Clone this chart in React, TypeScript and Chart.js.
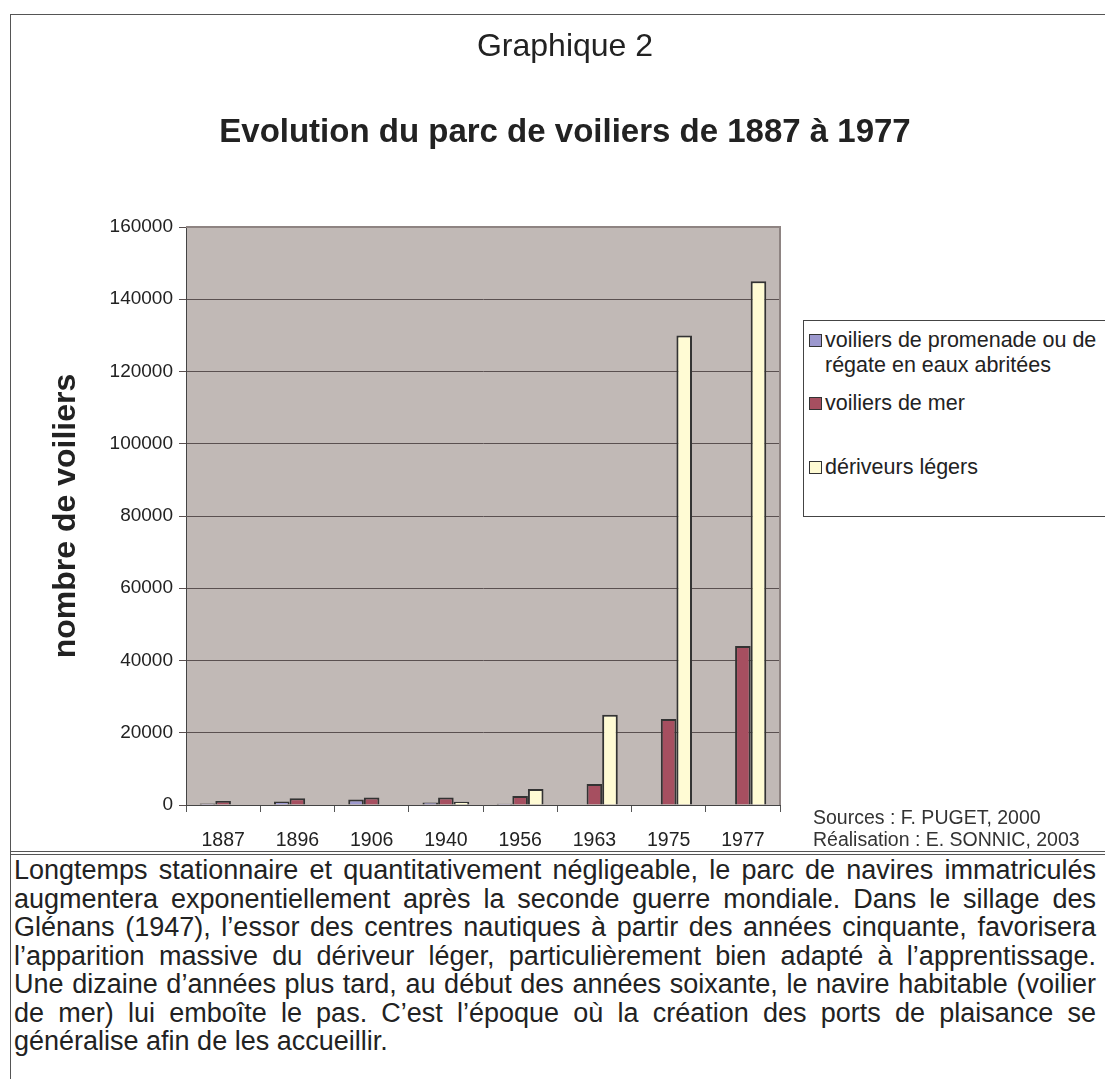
import React, { useEffect, useRef } from "react";
import { Chart, registerables } from "chart.js";

Chart.register(...registerables);

const FONT = '"Liberation Sans", Arial, Helvetica, sans-serif';

const categories = ["1887", "1896", "1906", "1940", "1956", "1963", "1975", "1977"];
const seriesNames = [
  ["voiliers de promenade ou de", "régate en eaux abritées"],
  ["voiliers de mer"],
  ["dériveurs légers"],
];
const promenade = [400, 1000, 1500, 700, 350, 150, 150, null];
const mer = [1100, 1900, 2100, 2100, 2500, 5800, 23800, 44000];
const deriveurs = [null, null, null, 900, 4400, 25000, 130000, 145000];
const seriesColors = ["#9C98CE", "#A64F60", "#FFFBD4"];
const yMax = 160000;
const yStep = 20000;

const pageTitle = "Graphique 2";
const chartTitle = "Evolution du parc de voiliers de 1887 à 1977";
const yTitle = "nombre de voiliers";
const sources = ["Sources : F. PUGET, 2000", "Réalisation : E. SONNIC, 2003"];
const paragraphLines = [
  "Longtemps stationnaire et quantitativement négligeable, le parc de navires immatriculés",
  "augmentera exponentiellement après la seconde guerre mondiale. Dans le sillage des",
  "Glénans (1947), l’essor des centres nautiques à partir des années cinquante, favorisera",
  "l’apparition massive du dériveur léger, particulièrement bien adapté à l’apprentissage.",
  "Une dizaine d’années plus tard, au début des années soixante, le navire habitable (voilier",
  "de mer) lui emboîte le pas. C’est l’époque où la création des ports de plaisance se",
  "généralise afin de les accueillir.",
];

const plotBg = {
  id: "plotBg",
  beforeDraw(chart: any) {
    const { ctx, chartArea } = chart;
    if (!chartArea) return;
    ctx.save();
    ctx.fillStyle = "#C1B9B6";
    ctx.fillRect(chartArea.left, chartArea.top, chartArea.right - chartArea.left, chartArea.bottom - chartArea.top);
    ctx.restore();
  },
  afterDraw(chart: any) {
    const { ctx, chartArea } = chart;
    ctx.save();
    ctx.strokeStyle = "#8E8482";
    ctx.lineWidth = 2;
    ctx.beginPath();
    ctx.moveTo(chartArea.left, chartArea.top);
    ctx.lineTo(chartArea.right, chartArea.top);
    ctx.lineTo(chartArea.right, chartArea.bottom);
    ctx.stroke();
    ctx.restore();
  },
};

function BarChart() {
  const ref = useRef<HTMLCanvasElement | null>(null);
  useEffect(() => {
    if (!ref.current) return;
    const data = [promenade, mer, deriveurs];
    const chart = new Chart(ref.current, {
      type: "bar",
      data: {
        labels: categories,
        datasets: data.map((d, i) => ({
          label: seriesNames[i].join(" "),
          data: d,
          backgroundColor: seriesColors[i],
          borderColor: "#333333",
          borderWidth: 2,
          borderSkipped: "start",
          barPercentage: 1.0,
          categoryPercentage: 0.63,
        })),
      },
      options: {
        responsive: false,
        animation: false,
        devicePixelRatio: 1,
        layout: { padding: { left: 0, right: 325, top: 227, bottom: 0 } },
        plugins: { legend: { display: false }, title: { display: false }, tooltip: { enabled: false } },
        scales: {
          x: {
            offset: true,
            grid: { offset: true, drawOnChartArea: false, drawTicks: true, tickLength: 7, color: "#555" },
            border: { display: true, color: "#444", width: 1 },
            ticks: { font: { family: FONT, size: 19.5 }, color: "#222", padding: 17, maxRotation: 0 },
            afterFit(s: any) {
              s.height = 852 - 805;
            },
          },
          y: {
            min: 0,
            max: yMax,
            ticks: {
              stepSize: yStep,
              font: { family: FONT, size: 19 },
              color: "#222",
              padding: 6,
              callback: (v: any) => String(v),
            },
            grid: { color: "#5A5050", lineWidth: 1, tickLength: 7, drawTicks: true },
            border: { display: true, color: "#444", width: 1 },
            title: {
              display: true,
              text: yTitle,
              font: { family: FONT, size: 32, weight: "bold" },
              color: "#222",
              padding: { top: 47, bottom: 0 },
            },
            afterFit(s: any) {
              s.width = 186;
            },
          },
        },
      },
      plugins: [plotBg],
    });
    return () => chart.destroy();
  }, []);
  return <canvas ref={ref} width={1105} height={852} style={{ position: "absolute", left: 0, top: 0 }} />;
}

export default function App() {
  const txt: React.CSSProperties = { position: "absolute", fontFamily: FONT, color: "#222", whiteSpace: "nowrap" };
  const legendRows = [
    { top: 328, idx: 0 },
    { top: 391, idx: 1 },
    { top: 455, idx: 2 },
  ];
  return (
    <div style={{ position: "absolute", left: 0, top: 0, width: 1105, height: 1079, overflow: "hidden", background: "#fff" }}>
      <div style={{ position: "absolute", left: 10, top: 14, width: 1200, height: 1200, borderLeft: "1px solid #555", borderTop: "1px solid #555" }} />
      <div style={{ position: "absolute", left: 10, top: 851, width: 1200, height: 2, borderTop: "1px solid #555", borderBottom: "1px solid #555" }} />
      <BarChart />
      <div style={{ ...txt, left: 0, width: 1130, top: 26, fontSize: 32, textAlign: "center", lineHeight: "38px" }}>{pageTitle}</div>
      <div style={{ ...txt, left: 0, width: 1130, top: 111, fontSize: 33, fontWeight: "bold", textAlign: "center", lineHeight: "40px" }}>{chartTitle}</div>
      <div style={{ position: "absolute", left: 803, top: 320, width: 400, height: 195, border: "1px solid #444", background: "#fff" }} />
      {legendRows.map((r) => (
        <div key={r.idx} style={{ position: "absolute", left: 809, top: r.top }}>
          <div style={{ position: "absolute", left: 0, top: 6, width: 11, height: 11, background: seriesColors[r.idx], border: "1.5px solid #333" }} />
          <div style={{ ...txt, left: 16, top: 0, fontSize: 21.5, lineHeight: "25px" }}>
            {seriesNames[r.idx].map((l, j) => (
              <div key={j}>{l}</div>
            ))}
          </div>
        </div>
      ))}
      <div style={{ ...txt, left: 813, top: 806, fontSize: 19.5, lineHeight: "22px", color: "#333" }}>
        {sources.map((s, i) => (
          <div key={i}>{s}</div>
        ))}
      </div>
      <div style={{ position: "absolute", left: 14, top: 856, width: 1082, fontFamily: FONT, fontSize: 27, lineHeight: "28.5px", color: "#222" }}>
        {paragraphLines.map((l, i) => (
          <div
            key={i}
            style={{
              textAlign: "justify",
              textAlignLast: i === paragraphLines.length - 1 ? "left" : "justify",
              whiteSpace: "normal",
            }}
          >
            {l}
          </div>
        ))}
      </div>
    </div>
  );
}
